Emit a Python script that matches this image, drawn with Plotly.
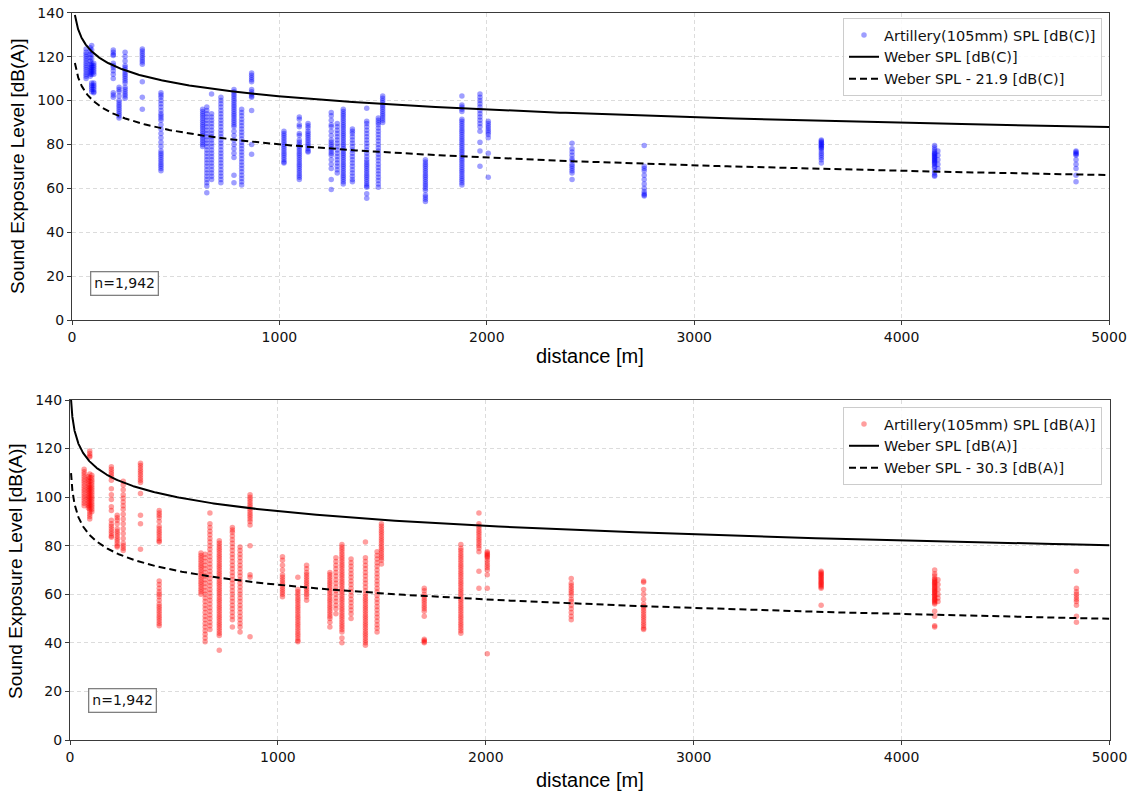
import numpy as np
import plotly.graph_objects as go

# Measurement sites (distance from the 105 mm gun, metres)
sites_m = [68, 88, 95, 105, 199, 227, 256, 339, 429, 630, 650, 673, 718, 781, 818, 866,
           1022, 1096, 1138, 1250, 1279, 1308, 1352, 1421, 1477, 1498, 1704, 1880, 1967,
           2007, 2411, 2759, 3613, 4159, 4175, 4841]

# C-weighted sound exposure levels recorded at each site
sel_c = [
    [123.5, 122, 121, 120, 119, 118, 117, 116, 115, 114, 113, 112, 111, 110],
    [124, 122.5, 121, 119.5, 118, 116.5, 115, 114, 113, 112, 111],
    [125, 123, 121, 119, 117, 116, 115, 114, 113, 112, 108, 107, 106, 105, 104],
    [117, 116, 115, 114, 113, 112, 108, 107, 106, 105, 104, 103.5],
    [123, 122, 121, 120.5, 117, 116, 115, 113.5, 112, 110, 103.5, 102.5, 101.5],
    [106, 105, 104, 102, 100, 99, 98, 97, 96, 95, 94, 93, 92],
    [122, 120, 118, 116, 115, 114, 113, 112, 111, 110, 109, 108, 106, 105, 104, 103, 102, 101],
    [123.5, 122.5, 121.5, 120.5, 119.5, 118.5, 117.5, 116.5, 108.5, 101.5, 96],
    [103.5, 102.5, 101.5, 100, 98.5, 97, 95.5, 94, 93, 92, 91, 89, 87, 85, 83, 81, 79, 77,
     76, 75, 74, 73, 72, 71, 70, 69, 68],
    [96, 95, 94, 93, 92, 91, 90, 89, 88, 87, 86, 85, 84, 83, 82, 81, 80, 79],
    [97, 95.5, 94, 92.5, 91, 89.5, 88, 86.5, 85, 83.5, 82, 80.5, 79, 77.5, 76, 74.5, 73,
     71.5, 70, 68.5, 67, 65.5, 64, 62.5, 61, 58],
    [103, 94, 92.5, 91, 89.5, 88, 86.5, 85, 83.5, 82, 80.5, 79, 77.5, 76, 74.5, 73, 71.5,
     70, 68.5, 67, 65.5, 64],
    [101.5, 100, 98.5, 97, 95.5, 94, 92.5, 91, 89.5, 88, 86.5, 85, 83.5, 82, 80.5, 79, 77.5,
     76, 74.5, 73, 71.5, 70, 68.5, 67, 65.5, 64, 62.5],
    [105, 104, 103, 102, 101, 100, 99, 98, 97, 96, 95, 94, 93, 92, 91, 90, 89, 88, 86, 84,
     82, 80, 78, 76, 74, 66, 62.5],
    [96, 94.5, 93, 91.5, 90, 88.5, 87, 85.5, 84, 82.5, 81, 79.5, 78, 76.5, 75, 73.5, 72,
     70.5, 69, 67.5, 66, 64.5, 63, 61.5],
    [112.5, 111.5, 110.5, 109.5, 108.5, 105, 104, 103, 102, 101.5, 95.5, 80, 75.5],
    [86, 85, 84, 83, 82, 81, 80, 79, 78, 77, 76, 75, 74, 73, 72, 71.5],
    [92.5, 91.5, 89, 88, 85, 84, 82, 81, 80, 79, 78, 77, 76, 75, 74, 73, 72, 71, 70, 69, 68,
     67, 66, 65, 64],
    [89.5, 88.5, 87.5, 86, 85, 84, 83, 82, 81, 80, 79, 78, 77, 76.5],
    [94.5, 93, 91, 89, 88, 86, 84, 82, 81, 80, 79, 78, 77, 76, 75, 73, 71, 69, 64, 59.5],
    [89.5, 88, 86.5, 85, 83.5, 82, 80.5, 79, 77.5, 76, 74.5, 73, 71.5, 70, 68.5, 67],
    [96, 95, 94, 93, 92, 91, 90, 89, 88, 87, 86, 85, 84, 83, 82, 81, 80, 79, 78, 77, 76, 75,
     74, 73, 72, 71, 70, 69, 68, 67, 66, 65, 64, 63, 62],
    [87, 86, 85, 83.5, 82, 80.5, 79, 77.5, 76, 74.5, 73, 71.5, 70, 68.5, 67, 65.5, 64, 63],
    [96.5, 90.5, 89.5, 88, 86.5, 85, 83.5, 82, 80.5, 79, 77.5, 76, 74.5, 73, 72, 71, 70, 69,
     68, 67, 66, 65, 64, 63, 62, 61, 60.5, 57.5, 55.5],
    [92, 91, 90, 89, 87.5, 86, 84.5, 83, 81.5, 80, 78.5, 77, 75.5, 74, 72.5, 71, 69.5, 68,
     66.5, 65, 63.5, 62, 60.5],
    [102, 101, 100, 99, 98, 97, 96, 95, 94, 93, 92, 91, 90],
    [73, 72, 71, 70, 69, 68, 67, 66, 65, 64, 63, 62, 61, 60, 59, 57, 56, 55, 54],
    [102, 98, 97, 96, 95, 91.5, 90.5, 89.5, 88.5, 87.5, 86.5, 85.5, 84.5, 83.5, 82.5, 81.5,
     80.5, 79.5, 78.5, 77.5, 76.5, 75.5, 74.5, 73.5, 72.5, 71.5, 70.5, 69.5, 68.5, 67.5,
     66.5, 65.5, 64.5, 63.5, 62.5, 61.5],
    [103, 101.5, 100, 98.5, 97, 95.5, 94, 92.5, 91, 89.5, 88, 86, 81, 77, 70],
    [90.5, 89.5, 88.5, 87.5, 86.5, 85.5, 84.5, 83, 76, 65],
    [80.5, 78, 76.5, 75, 73.5, 72.5, 71, 70, 69, 68, 67, 64],
    [79.5, 70, 69, 68, 66, 64, 62, 60, 58.5, 57.5, 57, 56.5],
    [82, 81.5, 81, 80.5, 80, 79.5, 79, 78.5, 78, 77, 76, 75, 74, 73, 71.5],
    [79.5, 78.5, 77.5, 76.5, 76, 75.5, 75, 74.5, 74, 73.5, 73, 72.5, 72, 71.5, 71, 70, 69.5,
     68, 67, 66, 65.5],
    [77, 75, 73, 71, 69],
    [77, 76.5, 76, 75.5, 75, 73, 71, 69, 66, 63],
]

# A-weighted sound exposure levels recorded at each site
sel_a = [
    [111.5, 110.5, 109.5, 108.5, 107.5, 106.5, 105.5, 104.5, 103.5, 102.5, 101.5, 100.5,
     99.5, 98.5, 97.5, 96.5],
    [108.5, 107.5, 106.5, 105.5, 104.5, 103.5, 102.5, 101.5, 100.5, 99.5, 98.5, 97.5, 96.5,
     95.5],
    [119, 118, 117, 116.5, 109.5, 108, 106.5, 105, 104, 103, 102, 101, 100, 99, 98, 97, 96,
     95, 94, 93, 92, 91],
    [109, 108, 107, 106, 105, 104, 103, 102, 101, 100, 99, 98, 97, 96, 95, 94],
    [112.5, 111.5, 110.5, 109.5, 108.5, 107, 103.5, 101, 99, 96, 94.5, 90.5, 89, 88, 87, 86,
     85, 84, 83.5],
    [92.5, 91.5, 90.5, 89, 87, 86, 85, 84, 83, 82, 81, 80, 79.5],
    [106.5, 105, 103, 101, 99.5, 98, 96.5, 95, 93, 91, 89, 87, 85, 83, 81, 80, 79, 78],
    [114, 113, 112, 111, 110, 109, 108, 107, 106, 101.5, 92.5, 89, 78.5],
    [94.5, 93.5, 92.5, 91.5, 90, 88, 87, 86, 85, 84, 83, 82, 81.5, 65.5, 64, 62.5, 61, 60,
     59, 57.5, 56, 55, 54, 53, 52, 51, 50, 49, 48, 47],
    [77, 76, 75, 74, 73, 72, 71, 70, 69, 68, 67, 66, 65, 64, 63, 62, 61, 60],
    [76.5, 75, 73.5, 72, 70.5, 69, 67.5, 66, 64.5, 63, 61.5, 60, 58.5, 57, 55.5, 54, 52.5,
     51, 49.5, 48, 46.5, 45, 43.5, 42, 40.5],
    [93.5, 89, 87.5, 86, 84.5, 83, 81.5, 80, 78.5, 77, 75.5, 74, 72.5, 71, 69.5, 68, 66.5,
     65, 63.5, 62, 60.5, 59, 57.5, 56, 54.5, 53, 51.5, 50, 48.5, 47, 45.5],
    [82, 81, 80, 79, 78, 77, 76, 75, 74, 73, 72, 71, 70, 69, 68, 67, 66, 65, 64, 63, 62, 61,
     60, 59, 58, 57, 56, 55, 54, 53, 52, 51, 50, 49, 48, 47, 46, 45, 44, 43, 37],
    [87.5, 86.5, 85.5, 84, 82.5, 81, 79.5, 78, 76.5, 75, 73.5, 72, 70.5, 69, 67.5, 66, 64.5,
     63, 61.5, 60, 58.5, 57, 55.5, 54, 52.5, 51, 49.5, 46.5],
    [79.5, 78, 76.5, 75, 73.5, 72, 70.5, 69, 67.5, 66, 64.5, 63, 61.5, 60, 58.5, 57, 55.5,
     54, 52.5, 51, 49.5, 48, 46.5, 44.5],
    [101, 100, 99, 98, 97, 96, 95, 94, 93, 92, 91, 90, 88.5, 80, 68, 67, 42.5],
    [75.5, 74, 72, 70, 68, 67, 66, 65, 64, 63, 62, 61, 60, 59],
    [67, 62, 61, 60, 59, 58, 57, 56, 55, 54, 53, 52, 51, 50, 49, 48, 47, 46, 45, 44, 43, 42,
     41, 40.5],
    [72, 70.5, 69, 68, 67, 66, 65, 64, 63, 62, 61, 60, 59, 57.5],
    [69, 68, 67, 66, 65, 64, 63, 62, 61, 60, 59, 58, 57, 56, 55, 54, 53, 52, 51, 50, 48.5,
     46.5],
    [75, 73.5, 72, 70.5, 69, 67.5, 66, 64.5, 63, 61.5, 60, 58.5, 57, 55.5, 54, 52],
    [80.5, 79.5, 78.5, 77.5, 76.5, 75.5, 74.5, 73.5, 72.5, 71.5, 70.5, 69.5, 68.5, 67.5,
     66.5, 65.5, 64.5, 63.5, 62.5, 61.5, 60.5, 59.5, 58.5, 57.5, 56.5, 55.5, 54.5, 53.5,
     52.5, 51.5, 50.5, 49.5, 48.5, 47.5, 46.5, 45.5, 44.5, 42, 40],
    [74.5, 73, 71.5, 70, 68.5, 67, 65.5, 64, 62.5, 61, 59.5, 58, 56.5, 55, 53.5, 52, 50],
    [81.5, 75, 73.5, 72, 70.5, 69, 67.5, 66, 64.5, 63, 61.5, 60, 59, 58, 57, 56, 55, 54, 53,
     52, 51, 50, 49, 48, 47, 46, 45, 44, 43, 42, 41, 40, 39],
    [77.5, 76, 74.5, 73, 71.5, 70, 68.5, 67, 65.5, 64, 62.5, 61, 59.5, 58, 56.5, 55, 53.5,
     52, 50.5, 49, 47.5, 46, 44.5],
    [89, 88, 87, 86, 85, 84, 83, 82, 81, 80, 79, 78, 77, 76, 75, 74, 72.5],
    [62.5, 61.5, 60, 59, 58, 57, 56, 55, 54, 53, 51, 41.5, 41, 40.5, 40],
    [80.5, 79, 78, 77, 76, 75, 74, 73, 72, 71, 70, 69, 68, 67, 66, 65, 64, 63, 62, 61, 60,
     59, 58, 57, 56, 55, 54, 53, 52, 51, 50, 49, 48, 47, 46, 45, 44],
    [93.5, 89, 88, 87, 86, 85, 84, 83, 82, 81, 80, 79, 77.5, 69.5, 62.5],
    [77.5, 77, 76.5, 76, 75.5, 75, 74, 73, 72, 71, 70, 68, 62.5, 35.5],
    [66.5, 64.5, 63.5, 62.5, 61.5, 60.5, 59.5, 58, 57, 55.5, 54, 52.5, 51, 49.5],
    [65.5, 65, 62, 60, 58, 56, 55, 54, 53, 52, 51, 50, 49, 48, 47, 46, 45.5],
    [69.5, 69, 68.5, 68, 67.5, 67, 66.5, 66, 65.5, 65, 64.5, 64, 63.5, 63, 62.5, 55.5],
    [70, 68.5, 67.5, 66.5, 66, 65.5, 65, 64.5, 64, 63.5, 63, 62.5, 62, 61.5, 61, 60.5, 60,
     59.5, 59, 58.5, 58, 57.5, 57, 56.5, 56, 53, 51, 47, 46.5],
    [66, 64, 62, 60, 58.5, 57],
    [69.5, 62.5, 61, 60, 59, 58, 57, 55.5, 51, 48.5],
]

# Weber blast-noise model: L(d) = L_ref - 20*log10(d)
weber_ref_c = 161.9
weber_ref_a = 154.2
offset_c = 21.9
offset_a = 30.3
n_label = "n=1,942"

x_ticks = [0, 1000, 2000, 3000, 4000, 5000]
y_ticks = [0, 20, 40, 60, 80, 100, 120, 140]


def flatten(sites, levels):
    xs, ys = [], []
    for d, vals in zip(sites, levels):
        xs.extend([d] * len(vals))
        ys.extend(vals)
    return xs, ys


xc, yc = flatten(sites_m, sel_c)
xa, ya = flatten(sites_m, sel_a)

d_c = np.geomspace(14, 5000, 500)
d_a = np.geomspace(5, 5000, 500)
weber_c = weber_ref_c - 20 * np.log10(d_c)
weber_a = weber_ref_a - 20 * np.log10(d_a)

W, H = 1141, 794
tick_font = dict(family="DejaVu Sans", size=14, color="#111111")
title_font = dict(family="Liberation Sans", size=20, color="#000000")
legend_font = dict(family="DejaVu Sans", size=14.5, color="#111111")

fig = go.Figure()

# upper panel: C-weighted
fig.add_trace(go.Scatter(
    x=xc, y=yc, mode="markers", name="Artillery(105mm) SPL [dB(C)]",
    marker=dict(color="rgba(0,0,255,0.38)", size=5.5, line=dict(width=0)),
    xaxis="x", yaxis="y", legend="legend"))
fig.add_trace(go.Scatter(
    x=d_c, y=weber_c, mode="lines", name="Weber SPL [dB(C)]",
    line=dict(color="black", width=2), xaxis="x", yaxis="y", legend="legend"))
fig.add_trace(go.Scatter(
    x=d_c, y=weber_c - offset_c, mode="lines", name=f"Weber SPL - {offset_c} [dB(C)]",
    line=dict(color="black", width=2, dash="7px,4px"), xaxis="x", yaxis="y",
    legend="legend"))

# lower panel: A-weighted
fig.add_trace(go.Scatter(
    x=xa, y=ya, mode="markers", name="Artillery(105mm) SPL [dB(A)]",
    marker=dict(color="rgba(255,0,0,0.38)", size=5.5, line=dict(width=0)),
    xaxis="x2", yaxis="y2", legend="legend2"))
fig.add_trace(go.Scatter(
    x=d_a, y=weber_a, mode="lines", name="Weber SPL [dB(A)]",
    line=dict(color="black", width=2), xaxis="x2", yaxis="y2", legend="legend2"))
fig.add_trace(go.Scatter(
    x=d_a, y=weber_a - offset_a, mode="lines", name=f"Weber SPL - {offset_a} [dB(A)]",
    line=dict(color="black", width=2, dash="7px,4px"), xaxis="x2", yaxis="y2",
    legend="legend2"))

axis_common = dict(
    showline=True, mirror=True, linecolor="#3a3a3a", linewidth=1.3,
    ticks="outside", ticklen=4, tickcolor="#3a3a3a", tickfont=tick_font,
    showgrid=True, gridcolor="#dcdcdc", griddash="4px,3px", gridwidth=1,
    zeroline=False, fixedrange=True, automargin=False,
)

fig.update_layout(
    width=W, height=H,
    margin=dict(l=0, r=0, t=0, b=0),
    paper_bgcolor="white", plot_bgcolor="white",
    xaxis=dict(domain=[72 / W, 1109 / W], range=[0, 5000], tickvals=x_ticks,
               anchor="y", **axis_common),
    yaxis=dict(domain=[(H - 320) / H, (H - 12.7) / H], range=[0, 140], tickvals=y_ticks,
               anchor="x", **axis_common),
    xaxis2=dict(domain=[70 / W, 1109.5 / W], range=[0, 5000], tickvals=x_ticks,
                anchor="y2", **axis_common),
    yaxis2=dict(domain=[(H - 740) / H, (H - 400) / H], range=[0, 140], tickvals=y_ticks,
                anchor="x2", **axis_common),
    legend=dict(x=1102 / W, xanchor="right", y=(H - 18) / H, yanchor="top",
                bgcolor="rgba(255,255,255,0.85)", bordercolor="#cccccc", borderwidth=1,
                font=legend_font, tracegroupgap=0),
    legend2=dict(x=1102 / W, xanchor="right", y=(H - 407) / H, yanchor="top",
                 bgcolor="rgba(255,255,255,0.85)", bordercolor="#cccccc", borderwidth=1,
                 font=legend_font, tracegroupgap=0),
    showlegend=True,
)

annotations = [
    # axis titles
    dict(text="Sound Exposure Level [dB(A)]", x=17 / W, y=(H - 166) / H, textangle=-90,
         font=dict(family="Liberation Sans", size=19, color="black")),
    dict(text="Sound Exposure Level [dB(A)]", x=15 / W, y=(H - 571) / H, textangle=-90,
         font=dict(family="Liberation Sans", size=19, color="black")),
    dict(text="distance [m]", x=590 / W, y=(H - 356) / H, font=title_font),
    dict(text="distance [m]", x=590 / W, y=(H - 780) / H, font=title_font),
    # sample size boxes
    dict(text=n_label, x=124.5 / W, y=(H - 283.5) / H, font=tick_font,
         bordercolor="#808080", borderwidth=1.3, borderpad=3, bgcolor="white"),
    dict(text=n_label, x=122 / W, y=(H - 700) / H, font=tick_font,
         bordercolor="#808080", borderwidth=1.3, borderpad=3, bgcolor="white"),
]
for a in annotations:
    a.update(xref="paper", yref="paper", showarrow=False, xanchor="center", yanchor="middle")
fig.update_layout(annotations=annotations)

fig.write_html("out.html")
